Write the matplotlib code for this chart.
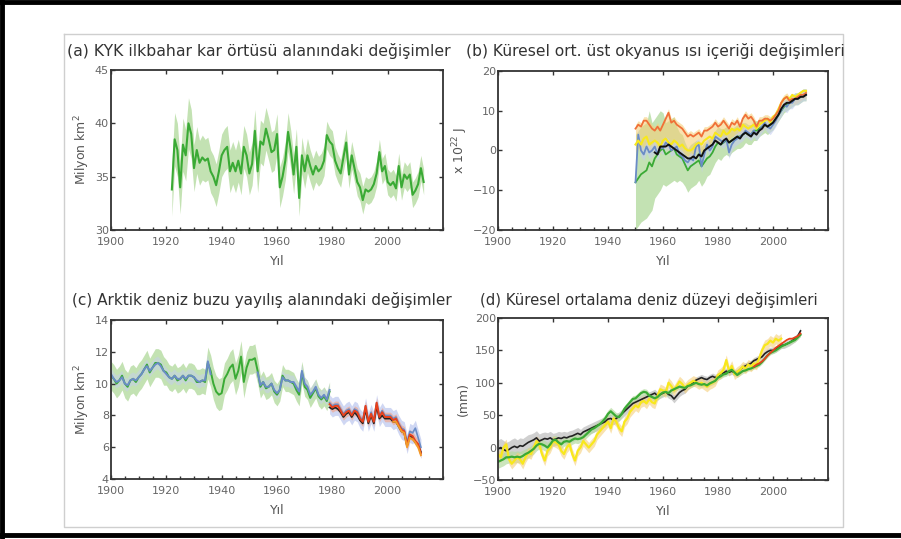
import matplotlib.pyplot as plt
import numpy as np
from matplotlib.lines import Line2D
from matplotlib.ticker import MultipleLocator

# ---- data ----

# (a) spring snow cover, green line, from 1922
a_start = 1922
a_snow = [33.8, 38.5, 37.5, 34.0, 38.0, 37.0, 40.0, 39.0, 35.8, 37.5,
          36.3, 36.8, 36.5, 36.7, 35.5, 35.0, 34.2, 35.5, 37.0, 37.5,
          37.8, 35.5, 36.3, 35.5, 36.5, 35.3, 37.8, 37.0, 35.3, 36.2,
          39.3, 35.5, 38.3, 38.0, 39.5, 38.5, 37.3, 37.5, 39.0, 34.0,
          35.0, 36.5, 39.2, 37.5, 35.2, 37.8, 33.0, 37.0, 35.5, 37.0,
          36.0, 35.2, 36.0, 35.5, 35.8, 36.5, 38.9, 38.3, 38.0, 36.5,
          35.8, 35.3, 36.8, 38.2, 35.2, 37.0, 35.8, 34.5, 34.0, 32.8,
          33.8, 33.6, 33.8, 34.3, 35.3, 37.3, 35.5, 36.0, 34.5, 34.2,
          34.5, 33.9, 36.0, 34.0, 35.2, 34.8, 35.2, 33.3, 33.7, 34.3,
          35.8, 34.5]
a_err = [2.5, 2.5, 2.5, 2.5, 2.5, 2.4, 2.4, 2.3, 2.2, 2.2,
         2.1, 2.1, 2.0, 2.0, 2.0, 2.0, 2.0, 2.0, 2.0, 2.0,
         2.0, 2.0, 2.0, 2.0, 2.0, 2.0, 2.0, 2.0, 2.0, 2.0,
         2.0, 2.0, 2.0, 2.0, 2.0, 2.0, 1.9, 1.9, 1.9, 1.9,
         1.8, 1.8, 1.8, 1.8, 1.8, 1.7, 1.7, 1.7, 1.6, 1.6,
         1.5, 1.5, 1.5, 1.4, 1.4, 1.4, 1.3, 1.3, 1.3, 1.3,
         1.3, 1.3, 1.3, 1.3, 1.3, 1.3, 1.3, 1.3, 1.3, 1.3,
         1.2, 1.2, 1.2, 1.2, 1.2, 1.2, 1.2, 1.2, 1.2, 1.2,
         1.2, 1.2, 1.2, 1.2, 1.2, 1.2, 1.2, 1.2, 1.2, 1.2,
         1.2, 1.2]

# (b) upper ocean heat content, x 10^22 J, from 1950 (black from 1957)
b_start = 1950
b_orange = [5.5, 6.5, 6.0, 7.5, 7.5, 6.5, 5.5, 5.0, 6.0, 5.0,
            6.5, 8.0, 9.5, 7.0, 7.5, 6.5, 6.0, 5.5, 4.5, 3.5,
            4.0, 3.5, 4.0, 4.5, 3.5, 5.0, 5.0, 5.5, 6.0, 7.0,
            6.0, 6.5, 7.5, 6.5, 5.5, 7.0, 6.5, 7.5, 6.0, 8.0,
            9.0, 8.0, 8.5, 7.5, 6.0, 7.5, 7.5, 8.0, 8.0, 7.5,
            8.0, 9.0, 10.0, 12.0, 13.0, 13.5, 12.5, 13.0, 13.0, 13.5,
            14.0, 14.0, 14.5]
b_yellow = [1.5, 2.5, 1.5, 3.0, 3.5, 1.5, 2.0, 2.5, 2.0, 1.0,
            2.5, 3.0, 2.0, 1.5, 2.5, 2.0, 1.0, 1.5, 0.5, 0.0,
            0.0, 0.5, 1.5, 2.0, 1.5, 2.5, 3.0, 3.5, 3.0, 4.5,
            4.0, 3.5, 5.0, 4.0, 4.5, 5.5, 5.0, 5.5, 5.0, 6.5,
            6.0, 5.5, 6.0, 6.5, 5.5, 6.5, 7.0, 7.5, 8.0, 7.0,
            8.5, 9.0, 10.5, 12.0, 13.0, 13.5, 13.0, 14.0, 13.5, 14.0,
            14.5, 15.0, 15.0]
b_blue = [-8.0, 4.0, 0.0, -1.0, 1.0, -0.5, 0.0, 1.0, -1.0, 1.0,
          0.5, 2.0, 1.5, 0.0, 0.5, 1.0, -1.0, -1.5, -2.5, -3.0,
          -2.0, -2.5, 1.0, 1.5, -4.0, -1.0, 1.5, 0.0, 1.0, 3.5,
          3.0, 2.5, 2.0, 3.0, -0.5, 1.5, 2.5, 3.0, 3.5, 4.0,
          5.0, 4.5, 4.0, 5.0, 4.0, 5.0, 6.0, 7.0, 6.0, 5.5,
          6.5, 7.5, 9.0, 10.0, 11.5, 11.0, 12.0, 12.0, 13.0, 13.0,
          13.5, 14.0, 14.0]
b_green = [-8.0, -7.0, -6.0, -5.5, -5.0, -3.0, -4.0, -2.0, -1.0, 0.0,
           0.5, -1.0, -0.5, 0.0, 0.5, -1.0, -1.5, -2.0, -3.5, -5.0,
           -4.0, -3.5, -3.0, -2.5, -4.0, -3.0, -2.0, -1.5, -0.5, 1.0,
           2.0, 1.5, 2.0, 2.5, 2.0, 2.5, 3.0, 3.5, 3.5, 4.0,
           4.5, 4.0, 4.0, 5.0, 5.0, 5.5, 6.0, 6.5, 6.0, 6.5,
           7.0, 8.0, 9.0, 10.0, 11.0, 11.5, 12.0, 12.5, 13.0, 13.0,
           13.5, 14.0, 14.0]
b_green_err = [12, 12, 12, 12, 12, 13, 11, 10, 10, 10,
               9, 8, 8, 8, 8, 7, 6, 6, 5.5, 5.5,
               5.5, 5.5, 5.5, 5, 5, 5, 4.5, 4.5, 4, 4,
               4, 4, 3.5, 3.5, 3.5, 3, 3, 3, 3, 3,
               2.5, 2.5, 2.5, 2.5, 2.5, 2, 2, 2, 2, 1.8,
               1.8, 1.6, 1.6, 1.5, 1.5, 1.5, 1.5, 1.5, 1.5, 1.5,
               1.5, 1.5, 1.5]
b_black_start = 1957
b_black = [-0.5, -1.0, 1.0, 1.0, 1.0, 1.5, 1.0, 0.5, 0.0, -0.5,
           -1.0, -1.5, -2.0, -2.0, -1.5, -2.0, -1.0, -1.5, 0.0, 0.5,
           1.0, 1.5, 2.5, 2.0, 1.5, 2.5, 3.0, 2.0, 2.5, 3.0,
           3.5, 3.0, 4.0, 4.5, 4.0, 3.5, 4.5, 4.0, 5.0, 5.5,
           6.5, 6.0, 6.5, 7.0, 8.0, 9.0, 10.5, 11.5, 12.0, 12.0,
           12.5, 13.0, 13.0, 13.5, 13.5, 14.0]

# (c) Arctic sea ice extent, million km2, from 1900
c_start = 1900
c_green = [10.5, 10.3, 10.0, 10.2, 10.5, 10.0, 9.8, 10.2, 10.3, 10.1,
           10.4, 10.6, 10.9, 11.2, 10.7, 11.0, 11.3, 11.3, 11.2, 10.8,
           10.7, 10.4, 10.3, 10.5, 10.2, 10.3, 10.5, 10.2, 10.5, 10.5,
           10.4, 10.1, 10.1, 10.2, 10.1, 11.3, 10.8, 10.0, 9.5, 9.3,
           9.4, 10.3, 10.6, 11.0, 11.2, 10.3, 10.8, 11.7, 10.1, 11.0,
           11.5, 11.5, 11.6, 10.8, 9.8, 10.1, 9.7, 9.8, 10.0, 9.5,
           9.3, 9.6, 10.5, 10.2, 10.2, 10.1, 10.0, 9.6, 9.3, 10.7,
           9.8, 9.6, 9.1, 9.4, 9.7, 9.2, 9.0, 9.2, 8.9, 9.5]
c_green_err = [0.9, 0.9, 0.9, 0.9, 0.9, 0.9, 0.9, 0.9, 0.9, 0.9,
               0.9, 0.9, 0.9, 0.9, 0.9, 0.9, 0.9, 0.9, 0.9, 0.9,
               0.8, 0.8, 0.8, 0.8, 0.8, 0.8, 0.8, 0.8, 0.8, 0.8,
               0.8, 0.8, 0.8, 0.8, 0.8, 1.0, 1.0, 1.0, 1.0, 1.0,
               1.0, 1.0, 1.0, 1.0, 1.0, 1.0, 1.0, 1.0, 1.0, 1.0,
               0.9, 0.9, 0.9, 0.8, 0.7, 0.7, 0.7, 0.7, 0.7, 0.7,
               0.7, 0.7, 0.7, 0.7, 0.7, 0.7, 0.7, 0.7, 0.7, 0.7,
               0.6, 0.6, 0.6, 0.6, 0.6, 0.6, 0.6, 0.6, 0.6, 0.6]
c_blue_old = [10.6, 10.3, 10.1, 10.2, 10.4, 10.0, 9.9, 10.2, 10.3, 10.2,
              10.4, 10.6, 10.9, 11.1, 10.8, 11.0, 11.2, 11.3, 11.1, 10.8,
              10.6, 10.4, 10.3, 10.5, 10.3, 10.3, 10.5, 10.3, 10.5, 10.5,
              10.4, 10.2, 10.1, 10.2, 10.2, 11.4, 10.6, np.nan, np.nan, np.nan,
              np.nan, np.nan, np.nan, np.nan, np.nan, np.nan, np.nan, np.nan, np.nan, np.nan,
              np.nan, np.nan, np.nan, 10.7, 9.9, 10.1, 9.8, 9.8, 10.0, 9.6,
              9.4, 9.6, 10.4, 10.2, 10.2, 10.1, 10.1, 9.8, 9.5, 10.8,
              10.0, 9.8, 9.3, 9.5, 9.8, 9.3, 9.1, 9.3, 9.0, 9.6]
c_sat_start = 1979
c_red = [8.7, 8.5, 8.6, 8.6, 8.3, 8.0, 8.2, 8.3, 8.0, 8.3,
         8.2, 7.8, 7.6, 8.6, 7.6, 8.1, 7.6, 8.8, 7.9, 8.2,
         7.9, 7.9, 7.9, 7.7, 7.8, 7.4, 7.1, 7.0, 6.1, 6.8,
         6.7, 6.4, 6.2, 5.6]
c_black = [8.5, 8.4, 8.5, 8.4, 8.2, 7.9, 8.1, 8.2, 7.9, 8.2,
           8.0, 7.7, 7.5, 8.4, 7.5, 8.0, 7.5, 8.6, 7.8, 8.0,
           7.8, 7.8, 7.8, 7.6, 7.6, 7.3, 7.0, 6.9, 6.1, 6.7,
           6.6, 6.3, 6.1, 5.7]
c_blue_sat = [8.8, 8.6, 8.7, 8.7, 8.4, 8.1, 8.3, 8.4, 8.1, 8.4,
              8.3, 7.9, 7.7, 8.6, 7.7, 8.2, 7.7, 8.8, 8.0, 8.3,
              8.0, 8.0, 8.0, 7.8, 7.9, 7.5, 7.2, 7.1, 6.3, 7.0,
              6.9, 7.2, 6.6, 6.0]
c_orange_start = 2002
c_orange = [7.6, 7.6, 7.3, 7.0, 6.9, 6.0, 6.6, 6.5, 6.3, 6.0, 5.5]

# (d) global mean sea level, mm, from 1900
d_start = 1900
d_green = [-22, -20, -18, -15, -15, -14, -15, -14, -15, -13,
           -10, -8, -5, -2, 3, 6, 5, 3, 0, 5,
           11, 12, 8, 5, 9, 10, 9, 12, 14, 13,
           14, 16, 20, 24, 28, 30, 33, 36, 40, 45,
           52, 56, 52, 48, 47, 52, 60, 65, 70, 75,
           76, 80, 84, 86, 85, 80, 78, 76, 78, 82,
           85, 86, 84, 88, 90, 92, 94, 93, 92, 95,
           96, 98, 100, 98, 97, 98, 96, 99, 101, 103,
           108, 110, 113, 114, 118, 120, 116, 112, 115, 118,
           119, 121, 122, 124, 126, 128, 132, 137, 142, 146,
           148, 150, 153, 156, 158, 160, 162, 164, 166, 170,
           174]
d_green_err = [10, 10, 10, 10, 9, 9, 9, 9, 9, 9,
               8, 8, 8, 8, 8, 8, 8, 8, 8, 8,
               7, 7, 7, 7, 7, 7, 7, 7, 7, 7,
               6, 6, 6, 6, 6, 6, 6, 6, 6, 6,
               6, 6, 6, 6, 6, 5, 5, 5, 5, 5,
               5, 5, 5, 5, 5, 5, 5, 5, 5, 5,
               5, 5, 5, 5, 5, 4, 4, 4, 4, 4,
               4, 4, 4, 4, 4, 4, 4, 4, 4, 4,
               4, 4, 4, 4, 4, 4, 4, 4, 4, 4,
               3, 3, 3, 3, 3, 3, 3, 3, 3, 3,
               3, 3, 3, 3, 3, 3, 3, 3, 3, 3,
               3]
d_yellow = [-10, -15, 0, 5, -18, -25, -20, -15, -18, -25,
            -15, -8, -10, 0, 10, 5, -10, -20, -5, 0,
            10, 8, 5, -5, -10, 0, 5, -10, -20, -5,
            0, 10, 5, 0, 5, 10, 20, 25, 30, 35,
            40, 30, 45, 40, 30, 25, 40, 45, 55, 60,
            65, 62, 70, 72, 68, 75, 70, 68, 80, 90,
            88, 85, 100, 95, 88, 95, 102, 98, 92, 97,
            100, 103, 101, 98, 100, 97, 94, 98, 100, 103,
            112, 115, 120, 135, 118, 126, 113, 117, 120, 125,
            122, 128, 125, 130, 128, 138, 150, 158, 160, 165,
            162, 168, 165, 168]
d_black = [-2, 0, -3, -5, -3, 0, 2, 0, 3, 2,
           5, 8, 10, 12, 15, 10, 12, 14, 13, 15,
           12, 13, 15, 14, 16, 15, 17, 18, 20, 22,
           20, 24, 26, 28, 30, 32, 34, 36, 38, 40,
           44, 45, 42, 45, 48, 52, 56, 60, 64, 68,
           70, 72, 74, 76, 78, 80, 82, 84, 80, 82,
           84, 86, 82, 80, 75, 80, 85, 88, 90, 95,
           98, 100, 104, 106, 108, 106, 105, 108, 110, 108,
           110, 114, 115, 118, 116, 118, 115, 116, 120, 124,
           126, 128, 130, 134, 136, 138, 140, 145, 148, 150,
           150, 152, 155, 158, 158, 160, 162, 165, 168, 172,
           180]
d_black_err = [14, 14, 14, 13, 13, 13, 13, 12, 12, 12,
               12, 12, 11, 11, 11, 11, 11, 10, 10, 10,
               10, 10, 10, 10, 9, 9, 9, 9, 9, 9,
               8, 8, 8, 8, 8, 8, 8, 8, 8, 8,
               7, 7, 7, 7, 7, 7, 7, 7, 7, 7,
               6, 6, 6, 6, 6, 6, 6, 6, 6, 6,
               6, 6, 6, 6, 6, 6, 6, 6, 6, 6,
               5, 5, 5, 5, 5, 5, 5, 5, 5, 5,
               5, 5, 5, 5, 5, 5, 5, 5, 5, 5,
               5, 5, 5, 5, 5, 5, 5, 5, 5, 5,
               5, 5, 5, 5, 5, 5, 5, 5, 5, 5,
               5]
d_red_start = 1993
d_red = [125, 128, 130, 133, 137, 142, 146, 150, 154, 157,
         160, 163, 166, 168, 168, 170, 172, 176]

titles = ['(a) KYK ilkbahar kar örtüsü alanındaki değişimler',
          '(b) Küresel ort. üst okyanus ısı içeriği değişimleri',
          '(c) Arktik deniz buzu yayılış alanındaki değişimler',
          '(d) Küresel ortalama deniz düzeyi değişimleri']

GREEN = '#3aaa35'
GREEN_BAND = '#b5dba0'
BLUE = '#6a8cc6'
BLUE_BAND = '#c4cdf0'
ORANGE = '#f07038'
YELLOW = '#f8e81c'
ORANGE_BAND = '#f5cf7a'
GRAY_BAND = '#bdbdbd'


def yrs(start, vals):
    return np.arange(start, start + len(vals))


def style(ax, ylim, ystep, ylabel):
    ax.set_xlim(1900, 2020)
    ax.set_ylim(*ylim)
    ax.xaxis.set_major_locator(MultipleLocator(20))
    ax.xaxis.set_minor_locator(MultipleLocator(5))
    ax.yaxis.set_major_locator(MultipleLocator(ystep))
    ax.set_xticks([1900, 1920, 1940, 1960, 1980, 2000])
    ax.tick_params(which='both', direction='in', top=True, right=True,
                   labelsize=8, labelcolor='#666666', color='#333333')
    ax.tick_params(which='major', length=3, width=1)
    ax.tick_params(which='minor', length=2, width=1, top=False)
    ax.tick_params(axis='x', pad=5)
    ax.tick_params(axis='y', pad=1.5)
    for s in ax.spines.values():
        s.set_color('#333333')
        s.set_linewidth(1.3)
    ax.set_xlabel('Yıl', fontsize=9, color='#555555', labelpad=6)
    ax.set_ylabel(ylabel, fontsize=9, color='#555555', labelpad=2)


fig = plt.figure(figsize=(9.01, 5.39), dpi=100)
ax_a = fig.add_axes([0.1232, 0.5733, 0.3685, 0.2968])
ax_b = fig.add_axes([0.5527, 0.5733, 0.3663, 0.2950])
ax_c = fig.add_axes([0.1232, 0.1113, 0.3685, 0.2950])
ax_d = fig.add_axes([0.5527, 0.1095, 0.3663, 0.3006])

# (a)
x = yrs(a_start, a_snow)
v = np.array(a_snow)
e = np.array(a_err)
ax_a.fill_between(x, v - e, v + e, color=GREEN_BAND, alpha=0.8, lw=0)
ax_a.plot(x, v, color=GREEN, lw=1.5)
style(ax_a, (30, 45), 5, 'Milyon km$^2$')

# (b)
xb = yrs(b_start, b_green)
g = np.array(b_green)
ge = np.array(b_green_err)
ax_b.fill_between(xb, g - ge, g + ge, color=GREEN_BAND, alpha=0.8, lw=0)
ax_b.fill_between(xb, np.array(b_yellow) - 2, np.array(b_orange) + 1,
                  color=ORANGE_BAND, alpha=0.6, lw=0)
ax_b.fill_between(xb, np.array(b_blue) - 1.5, np.array(b_blue) + 1.5,
                  color=BLUE_BAND, alpha=0.6, lw=0)
ax_b.plot(xb, g, color=GREEN, lw=1.3)
ax_b.plot(xb, b_blue, color=BLUE, lw=1.3)
ax_b.plot(xb, b_yellow, color=YELLOW, lw=1.5)
ax_b.plot(xb, b_orange, color=ORANGE, lw=1.3)
ax_b.plot(yrs(b_black_start, b_black), b_black, color='#111111', lw=1.4)
style(ax_b, (-20, 20), 10, 'x 10$^{22}$ J')

# (c)
xc = yrs(c_start, c_green)
cg = np.array(c_green)
ce = np.array(c_green_err)
ax_c.fill_between(xc, cg - ce, cg + ce, color=GREEN_BAND, alpha=0.8, lw=0)
ax_c.fill_between(xc, np.array(c_blue_old) - 0.4, np.array(c_blue_old) + 0.4,
                  color=BLUE_BAND, alpha=0.5, lw=0)
ax_c.plot(xc, cg, color=GREEN, lw=1.4)
ax_c.plot(xc, c_blue_old, color=BLUE, lw=1.4)
xs = yrs(c_sat_start, c_blue_sat)
bs = np.array(c_blue_sat)
ax_c.fill_between(xs, bs - 0.7, bs + 0.5, color=BLUE_BAND, alpha=0.8, lw=0)
ax_c.fill_between(xs, np.array(c_red) - 0.3, np.array(c_red) + 0.3,
                  color='#f6a080', alpha=0.6, lw=0)
ax_c.plot(xs, bs, color=BLUE, lw=1.2)
ax_c.plot(xs, c_black, color='#222222', lw=1.3)
ax_c.plot(xs, c_red, color='#e8401c', lw=1.4)
ax_c.plot(yrs(c_orange_start, c_orange), c_orange, color='#f49a2a', lw=1.4)
style(ax_c, (4, 14), 2, 'Milyon km$^2$')

# (d)
xd = yrs(d_start, d_black)
db = np.array(d_black)
dbe = np.array(d_black_err)
ax_d.fill_between(xd, db - dbe, db + dbe, color=GRAY_BAND, alpha=0.7, lw=0)
dg = np.array(d_green)
dge = np.array(d_green_err)
ax_d.fill_between(xd, dg - dge, dg + dge, color=GREEN_BAND, alpha=0.7, lw=0)
xy = yrs(d_start, d_yellow)
dy = np.array(d_yellow)
ax_d.fill_between(xy, dy - 8, dy + 8, color=ORANGE_BAND, alpha=0.6, lw=0)
ax_d.plot(xd, db, color='#222222', lw=1.2)
ax_d.plot(xy, dy, color=YELLOW, lw=1.6)
ax_d.plot(xd, dg, color=GREEN, lw=1.6)
ax_d.plot(yrs(d_red_start, d_red), d_red, color='#e8401c', lw=1.3)
style(ax_d, (-50, 200), 50, '(mm)')

# titles
title_pos = [(67, 51), (466, 51), (72, 300), (480, 300)]
title_size = [11.3, 11.2, 11.0, 10.7]
for t, (px, py), fs in zip(titles, title_pos, title_size):
    fig.text(px / 901, 1 - py / 539, t, fontsize=fs, color='#333333',
             ha='left', va='center')

# page frames
W, H = 901, 539


def fline(xs_, ys_, **kw):
    fig.add_artist(Line2D([p / W for p in xs_], [1 - p / H for p in ys_],
                          transform=fig.transFigure, **kw))


fline([64, 843, 843, 64, 64], [34, 34, 527, 527, 34], color='#cfcfcf', lw=1)
fline([2, 2], [0, 539], color='black', lw=3.5)
fline([0, 901], [2, 2], color='black', lw=3.5)
fline([0, 901], [535, 535], color='black', lw=3.5)

fig.savefig('out.png', dpi=100)
